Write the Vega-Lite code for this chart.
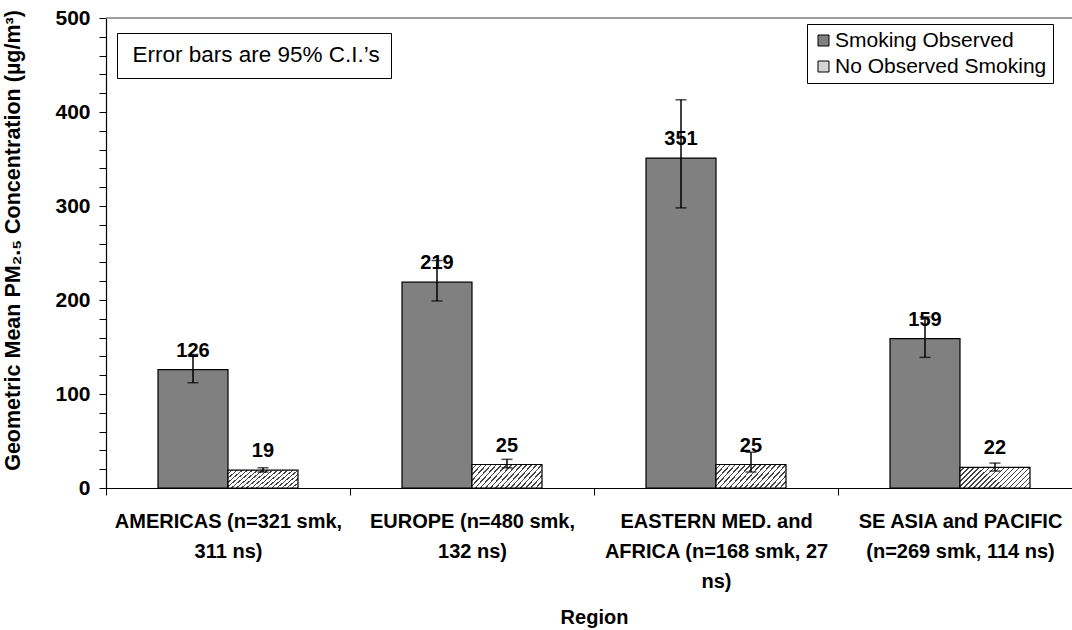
{
  "$schema": "https://vega.github.io/schema/vega-lite/v6.json",
  "autosize": {"type": "none"},
  "padding": {"left": 106, "top": 18, "right": 0, "bottom": 142},
  "width": 966,
  "height": 470,
  "background": "white",
  "config": {
    "font": "Liberation Sans",
    "view": {"stroke": null}
  },
  "data": {
    "values": [
      {"region": "AMERICAS (n=321 smk, 311 ns)", "group": "Smoking Observed", "value": 126, "lo": 112, "hi": 142},
      {"region": "AMERICAS (n=321 smk, 311 ns)", "group": "No Observed Smoking", "value": 19, "lo": 17, "hi": 21.5},
      {"region": "EUROPE (n=480 smk, 132 ns)", "group": "Smoking Observed", "value": 219, "lo": 199, "hi": 242},
      {"region": "EUROPE (n=480 smk, 132 ns)", "group": "No Observed Smoking", "value": 25, "lo": 21.5, "hi": 30.5},
      {"region": "EASTERN MED. and AFRICA (n=168 smk, 27 ns)", "group": "Smoking Observed", "value": 351, "lo": 298, "hi": 413},
      {"region": "EASTERN MED. and AFRICA (n=168 smk, 27 ns)", "group": "No Observed Smoking", "value": 25, "lo": 17, "hi": 38},
      {"region": "SE ASIA and PACIFIC (n=269 smk, 114 ns)", "group": "Smoking Observed", "value": 159, "lo": 139, "hi": 182},
      {"region": "SE ASIA and PACIFIC (n=269 smk, 114 ns)", "group": "No Observed Smoking", "value": 22, "lo": 18, "hi": 26.5}
    ]
  },
  "layer": [
    {
      "data": {"values": [{}]},
      "mark": {"type": "rule", "color": "#808080", "strokeWidth": 1.5},
      "encoding": {
        "y": {"datum": 500, "type": "quantitative"},
        "strokeDash": {
          "datum": "Error bars are 95% C.I.’s",
          "type": "nominal",
          "legend": {
            "orient": "none", "legendX": 11, "legendY": 15, "title": null,
            "strokeColor": "black", "fillColor": "white", "padding": 11,
            "labelFontSize": 22.5, "labelFont": "Liberation Sans", "labelColor": "black",
            "labelLimit": 400, "symbolOpacity": 0, "symbolSize": 0, "symbolStrokeWidth": 0, "labelOffset": -18
          }
        }
      }
    },
    {
      "mark": {"type": "bar", "stroke": "black", "strokeWidth": 1.2},
      "encoding": {
        "x": {
          "field": "region", "type": "nominal", "sort": null,
          "scale": {"range": [0, 976], "paddingInner": 0, "paddingOuter": 0},
          "axis": {
            "title": "Region", "titleFontSize": 20, "titleFontWeight": "bold", "titleColor": "black", "titlePadding": 16,
            "labelAngle": 0, "labelFontSize": 20, "labelFontWeight": "bold", "labelColor": "black",
            "labelLineHeight": 30, "labelPadding": 16, "labelLimit": 400, "labelBaseline": "top", "labelOverlap": false,
            "tickBand": "extent", "tickSize": 7, "tickColor": "black", "domainColor": "black", "domainWidth": 1.2,
            "labelExpr": "datum.value == 'AMERICAS (n=321 smk, 311 ns)' ? ['AMERICAS (n=321 smk,', '311 ns)'] : datum.value == 'EUROPE (n=480 smk, 132 ns)' ? ['EUROPE (n=480 smk,', '132 ns)'] : datum.value == 'EASTERN MED. and AFRICA (n=168 smk, 27 ns)' ? ['EASTERN MED. and', 'AFRICA (n=168 smk, 27', 'ns)'] : datum.value == 'SE ASIA and PACIFIC (n=269 smk, 114 ns)' ? ['SE ASIA and PACIFIC', '(n=269 smk, 114 ns)'] : ''"
          }
        },
        "xOffset": {"field": "group", "type": "nominal", "scale": {"domain": ["Smoking Observed", "No Observed Smoking"], "paddingOuter": 0.743, "paddingInner": 0}},
        "y": {
          "field": "value", "type": "quantitative",
          "scale": {"domain": [0, 500], "nice": false},
          "axis": {
            "title": "Geometric Mean PM₂.₅ Concentration (µg/m³)", "titleFontSize": 21.5, "titleFontWeight": "bold", "titleColor": "black", "titlePadding": 30, "titleY": 222,
            "values": [0, 20, 40, 60, 80, 100, 120, 140, 160, 180, 200, 220, 240, 260, 280, 300, 320, 340, 360, 380, 400, 420, 440, 460, 480, 500],
            "tickCount": 40,
            "labelExpr": "datum.value % 100 === 0 ? datum.label : ''",
            "labelFontSize": 21, "labelFontWeight": "bold", "labelColor": "black", "labelPadding": 9, "labelOverlap": false,
            "tickSize": 7,
            "tickColor": "black", "domainColor": "black", "domainWidth": 1.2, "grid": false
          }
        },
        "fill": {
          "field": "group", "type": "nominal",
          "condition": {
            "test": "datum.group === 'No Observed Smoking'",
            "value": {"gradient": "linear", "x1": 0, "y1": 0, "x2": 1.19, "y2": 0.36, "stops": [
              {"offset": 0, "color": "white"}, {"offset": 0.0389, "color": "white"}, {"offset": 0.0389, "color": "#444"}, {"offset": 0.0556, "color": "#444"},
              {"offset": 0.0556, "color": "white"}, {"offset": 0.0944, "color": "white"}, {"offset": 0.0944, "color": "#444"}, {"offset": 0.1111, "color": "#444"},
              {"offset": 0.1111, "color": "white"}, {"offset": 0.15, "color": "white"}, {"offset": 0.15, "color": "#444"}, {"offset": 0.1667, "color": "#444"},
              {"offset": 0.1667, "color": "white"}, {"offset": 0.2056, "color": "white"}, {"offset": 0.2056, "color": "#444"}, {"offset": 0.2222, "color": "#444"},
              {"offset": 0.2222, "color": "white"}, {"offset": 0.2611, "color": "white"}, {"offset": 0.2611, "color": "#444"}, {"offset": 0.2778, "color": "#444"},
              {"offset": 0.2778, "color": "white"}, {"offset": 0.3167, "color": "white"}, {"offset": 0.3167, "color": "#444"}, {"offset": 0.3333, "color": "#444"},
              {"offset": 0.3333, "color": "white"}, {"offset": 0.3722, "color": "white"}, {"offset": 0.3722, "color": "#444"}, {"offset": 0.3889, "color": "#444"},
              {"offset": 0.3889, "color": "white"}, {"offset": 0.4278, "color": "white"}, {"offset": 0.4278, "color": "#444"}, {"offset": 0.4444, "color": "#444"},
              {"offset": 0.4444, "color": "white"}, {"offset": 0.4833, "color": "white"}, {"offset": 0.4833, "color": "#444"}, {"offset": 0.5, "color": "#444"},
              {"offset": 0.5, "color": "white"}, {"offset": 0.5389, "color": "white"}, {"offset": 0.5389, "color": "#444"}, {"offset": 0.5556, "color": "#444"},
              {"offset": 0.5556, "color": "white"}, {"offset": 0.5944, "color": "white"}, {"offset": 0.5944, "color": "#444"}, {"offset": 0.6111, "color": "#444"},
              {"offset": 0.6111, "color": "white"}, {"offset": 0.65, "color": "white"}, {"offset": 0.65, "color": "#444"}, {"offset": 0.6667, "color": "#444"},
              {"offset": 0.6667, "color": "white"}, {"offset": 0.7056, "color": "white"}, {"offset": 0.7056, "color": "#444"}, {"offset": 0.7222, "color": "#444"},
              {"offset": 0.7222, "color": "white"}, {"offset": 0.7611, "color": "white"}, {"offset": 0.7611, "color": "#444"}, {"offset": 0.7778, "color": "#444"},
              {"offset": 0.7778, "color": "white"}, {"offset": 0.8167, "color": "white"}, {"offset": 0.8167, "color": "#444"}, {"offset": 0.8333, "color": "#444"},
              {"offset": 0.8333, "color": "white"}, {"offset": 0.8722, "color": "white"}, {"offset": 0.8722, "color": "#444"}, {"offset": 0.8889, "color": "#444"},
              {"offset": 0.8889, "color": "white"}, {"offset": 0.9278, "color": "white"}, {"offset": 0.9278, "color": "#444"}, {"offset": 0.9444, "color": "#444"},
              {"offset": 0.9444, "color": "white"}, {"offset": 0.9833, "color": "white"}, {"offset": 0.9833, "color": "#444"}, {"offset": 1, "color": "#444"}
            ]}
          },
          "scale": {"domain": ["Smoking Observed", "No Observed Smoking"], "range": ["#808080", "#d4d4d4"]},
          "legend": {
            "orient": "none", "legendX": 701, "legendY": 6, "title": null,
            "strokeColor": "black", "fillColor": "white", "padding": 6,
            "labelFontSize": 21, "labelFont": "Liberation Sans", "labelColor": "black", "labelLimit": 400,
            "symbolType": "square", "symbolSize": 121, "symbolStrokeColor": "black", "symbolStrokeWidth": 1,
            "rowPadding": 4, "labelOffset": 1
          }
        }
      }
    },
    {
      "mark": {"type": "text", "fontSize": 20, "fontWeight": "bold", "color": "black", "baseline": "alphabetic", "dy": -13},
      "encoding": {
        "x": {"field": "region", "type": "nominal", "sort": null},
        "xOffset": {"field": "group", "type": "nominal"},
        "y": {"field": "value", "type": "quantitative"},
        "text": {"field": "value", "type": "quantitative", "format": ".0f"}
      }
    },
    {
      "mark": {"type": "rule", "color": "black", "strokeWidth": 1.5},
      "encoding": {
        "x": {"field": "region", "type": "nominal", "sort": null},
        "xOffset": {"field": "group", "type": "nominal"},
        "y": {"field": "lo", "type": "quantitative"},
        "y2": {"field": "hi"}
      }
    },
    {
      "mark": {"type": "tick", "color": "black", "size": 11, "thickness": 1.5, "orient": "horizontal"},
      "encoding": {
        "x": {"field": "region", "type": "nominal", "sort": null},
        "xOffset": {"field": "group", "type": "nominal"},
        "y": {"field": "lo", "type": "quantitative"}
      }
    },
    {
      "mark": {"type": "tick", "color": "black", "size": 11, "thickness": 1.5, "orient": "horizontal"},
      "encoding": {
        "x": {"field": "region", "type": "nominal", "sort": null},
        "xOffset": {"field": "group", "type": "nominal"},
        "y": {"field": "hi", "type": "quantitative"}
      }
    }
  ]
}
